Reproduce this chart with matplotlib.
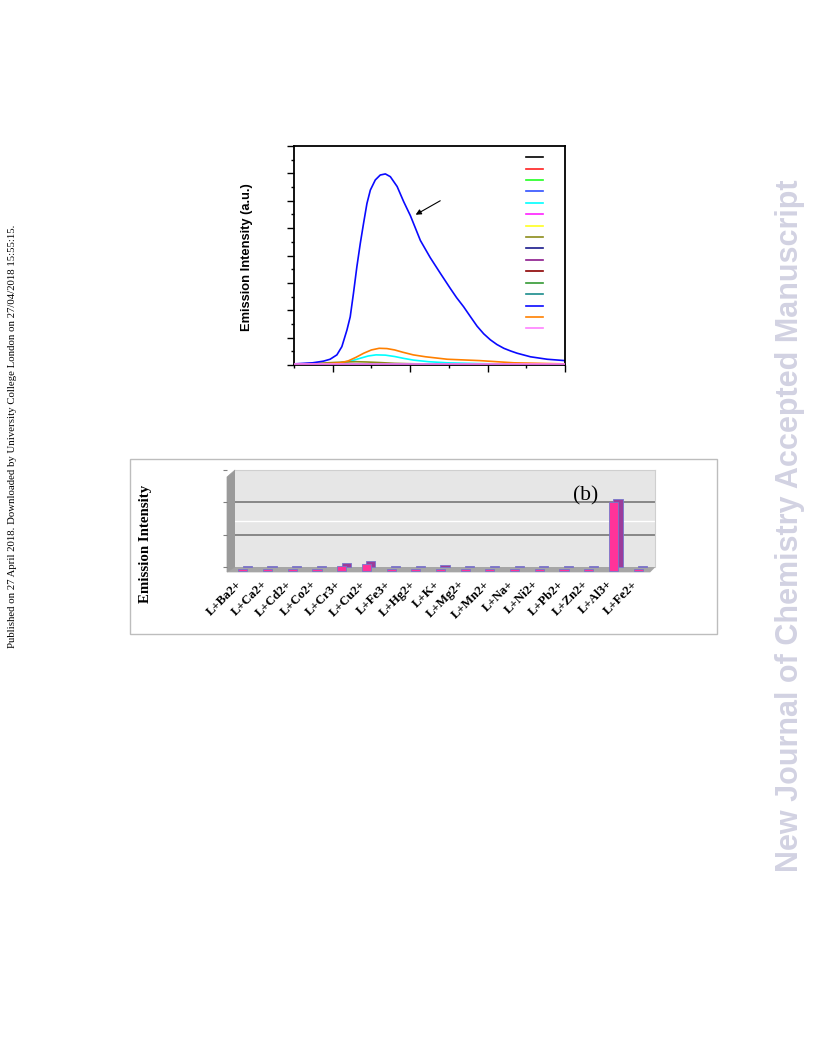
import matplotlib
matplotlib.use("Agg")
import matplotlib.pyplot as plt
from matplotlib.patches import Polygon, Rectangle
from matplotlib.ticker import MultipleLocator
from matplotlib.transforms import offset_copy, ScaledTranslation

# =========================
# Data
# =========================
W, H = 816, 1056

# (a) emission spectra, wavelength axis without labels
WL_BIG = [425, 437, 444, 448.3, 452.7, 455.9, 459.2, 461.3, 463.4, 465.6, 467.8, 469.9,
          472.1, 474.3, 477.5, 480.7, 484.0, 487.2, 491.6, 495.8, 500.2, 506.6, 513.0,
          519.5, 525.9, 530.0, 534.5, 539.0, 543.2, 547.5, 551.8, 556.0, 560.5, 565.0,
          569.1, 577.7, 588.5, 600]
I_BIG = [4, 8, 14, 21, 37, 67, 128, 176, 262, 359, 444, 517,
         590, 639, 676, 694, 698, 688, 652, 597, 545, 455, 392,
         335, 280, 246, 213, 176, 142, 114, 92, 75, 61, 51,
         43, 30, 21, 16]

WL_ORANGE = [425, 445, 455, 460, 465, 470, 475, 480, 485, 490, 495, 502, 510, 524, 545, 567, 600]
I_ORANGE = [2, 4, 8, 15, 28, 43, 55, 61, 60, 55, 47, 37, 30, 21, 16, 8, 4]

WL_CYAN = [425, 445, 455, 462, 468, 473, 478, 484, 490, 496, 502, 512, 524, 545, 570, 600]
I_CYAN = [2, 4, 8, 15, 25, 33, 37, 36, 31, 24, 18, 12, 8, 5, 3, 2]

WL_OLIVE = [425, 440, 450, 458, 465, 472, 480, 490, 505, 530, 600]
I_OLIVE = [3, 6, 9, 11, 12, 11, 9, 6, 4, 2, 1]

WL_FLAT = [425, 450, 475, 500, 525, 550, 575, 600]
I_BLACK = [1, 2, 3, 3, 2, 2, 1, 1]
I_RED = [1, 2, 3, 2, 2, 1, 1, 1]
I_LIME = [1, 2, 2, 2, 2, 1, 1, 1]
I_BLUE2 = [1, 2, 3, 3, 2, 1, 1, 1]
I_MAGENTA = [1, 1, 2, 2, 1, 1, 1, 1]
I_YELLOW = [1, 2, 2, 2, 1, 1, 1, 1]
I_NAVY = [1, 2, 3, 2, 2, 1, 1, 1]
I_PURPLE = [1, 1, 2, 2, 1, 1, 1, 1]
I_MAROON = [1, 2, 2, 2, 1, 1, 1, 1]
I_GREEN = [1, 2, 3, 3, 2, 1, 1, 1]
I_TEAL = [1, 2, 2, 2, 2, 1, 1, 1]
I_PINK = [2, 2, 2, 2, 2, 2, 2, 2]

LEGEND_COLORS = ["#000000", "#ff2020", "#20ff20", "#3050ff", "#00ffff", "#ff20ff",
                 "#ffff20", "#8c8c1a", "#1a1a8c", "#8c1a8c", "#8c0000", "#339933",
                 "#1a8c8c", "#0a0aff", "#ff8000", "#ff80ff"]

# (b) bar chart
IONS = ["L+Ba2+", "L+Ca2+", "L+Cd2+", "L+Co2+", "L+Cr3+", "L+Cu2+", "L+Fe3+", "L+Hg2+",
        "L+K+", "L+Mg2+", "L+Mn2+", "L+Na+", "L+Ni2+", "L+Pb2+", "L+Zn2+", "L+Al3+", "L+Fe2+"]
BAR_VALUES = [4, 4, 4, 4, 13, 20, 4, 4, 5, 4, 4, 4, 4, 4, 4, 211, 4]


def fig_rect(x0, y0, x1, y1):
    return [x0 / W, 1 - y1 / H, (x1 - x0) / W, (y1 - y0) / H]


def fig_pts(pts):
    return [(x / W, 1 - y / H) for x, y in pts]


fig = plt.figure(figsize=(W / 100, H / 100), dpi=100)

# =========================
# Panel (a): spectra
# =========================
ax = fig.add_axes(fig_rect(294, 146, 565, 365))

flat_sets = [I_BLACK, I_RED, I_LIME, I_BLUE2, None, I_MAGENTA, I_YELLOW, None,
             I_NAVY, I_PURPLE, I_MAROON, I_GREEN, I_TEAL, None, None, I_PINK]
handles = []
for i, col in enumerate(LEGEND_COLORS):
    if i == 4:
        xs, ys = WL_CYAN, I_CYAN
    elif i == 7:
        xs, ys = WL_OLIVE, I_OLIVE
    elif i == 13:
        xs, ys = WL_BIG, I_BIG
    elif i == 14:
        xs, ys = WL_ORANGE, I_ORANGE
    else:
        xs, ys = WL_FLAT, flat_sets[i]
    (ln,) = ax.plot(xs, ys, color=col, lw=1.2, zorder=2 + (i == 15),
                    solid_joinstyle="round")
    handles.append(ln)

ax.set_xlim(425, 600)
ax.set_ylim(0, 800)
ax.xaxis.set_major_locator(MultipleLocator(50))
ax.xaxis.set_major_formatter(plt.NullFormatter())
ax.xaxis.set_minor_locator(MultipleLocator(25))
ax.yaxis.set_major_locator(MultipleLocator(100))
ax.yaxis.set_minor_locator(MultipleLocator(50))
ax.tick_params(which="both", direction="out", top=False, right=False,
               labelleft=False, labelbottom=False, width=1)
ax.tick_params(which="major", length=5)
ax.tick_params(which="minor", length=2.5)
for sp in ax.spines.values():
    sp.set_linewidth(1.3)

ax.annotate("", xy=(502, 544), xytext=(521, 605),
            arrowprops=dict(arrowstyle="-|>", color="black", lw=0.8, mutation_scale=8))

leg = ax.legend(handles, [""] * len(handles), loc="upper left",
                bbox_to_anchor=(0.856, 0.968), frameon=False, fontsize=6,
                handlelength=2.1, handletextpad=0, labelspacing=0.29,
                borderpad=0, borderaxespad=0)

fig.text(247 / W, 1 - 257 / H, "Emission Intensity (a.u.)", rotation=90,
         ha="center", va="center", fontsize=9.3, fontweight="bold",
         family="Liberation Sans")

# =========================
# Panel (b): bar chart
# =========================
fig.patches.append(Rectangle((130 / W, 1 - 634 / H), 587 / W, 175 / H,
                             transform=fig.transFigure, facecolor="none",
                             edgecolor="#bdbdbd", lw=1))

bx = fig.add_axes(fig_rect(235, 470, 655, 567))
bx.set_facecolor("#e6e6e6")
xpos = list(range(len(IONS)))

back = bx.bar(xpos, BAR_VALUES, width=0.37, color="#9b3c9b", edgecolor="#7777cc",
              lw=0.6, zorder=3)
front_tr = offset_copy(bx.transData, fig=fig, x=-4.5, y=-3.5, units="dots")
front = bx.bar(xpos, BAR_VALUES, width=0.37, color="#ff3399", edgecolor="#7777cc",
               lw=0.6, zorder=4)
for r in back.patches:
    r.set_clip_on(False)
for r in front.patches:
    r.set_transform(front_tr)
    r.set_clip_on(False)

for lvl in (100, 200):
    bx.axhline(lvl, color="#808080", lw=1.3, zorder=1)
bx.axhline(143, color="white", lw=1, zorder=1)

bx.set_xlim(-0.5, len(IONS) - 0.5)
bx.set_ylim(0, 300)
bx.set_yticks([0, 100, 200, 300])
bx.set_yticklabels([])
bx.tick_params(axis="y", length=3, color="#808080", direction="out")
bx.spines["left"].set_position(("outward", 6))
bx.spines["left"].set_color("none")
bx.spines["bottom"].set_color("none")
bx.spines["top"].set_color("#cfcfcf")
bx.spines["right"].set_color("#cfcfcf")

bx.set_xticks(xpos)
bx.set_xticklabels(IONS, rotation=45, ha="right", va="center", rotation_mode="anchor",
                   fontsize=9.2, fontweight="bold", family="Liberation Serif")
bx.tick_params(axis="x", length=0, pad=11)
shift = ScaledTranslation(-7 / 100, 0, fig.dpi_scale_trans)
for lab in bx.get_xticklabels():
    lab.set_transform(lab.get_transform() + shift)

# floor and left wall of the 3-D frame
fig.patches.append(Polygon(fig_pts([(235, 567), (655, 567), (650, 572), (227, 572)]),
                           closed=True, transform=fig.transFigure,
                           facecolor="#a6a6a6", edgecolor="#a6a6a6", lw=0.5, zorder=-1))
fig.patches.append(Polygon(fig_pts([(227, 477), (235, 470), (235, 567), (227, 572)]),
                           closed=True, transform=fig.transFigure,
                           facecolor="#9a9a9a", edgecolor="#9a9a9a", lw=0.5, zorder=-1))

fig.text(586 / W, 1 - 496 / H, "(b)", ha="center", va="center", fontsize=15.5,
         family="Liberation Serif")

fig.text(146 / W, 1 - 544 / H, "Emission Intensity", rotation=90, ha="center",
         va="center", fontsize=10.7, fontweight="bold", family="Liberation Serif")

# =========================
# Page furniture
# =========================
fig.text(13 / W, 1 - 436 / H,
         "Published on 27 April 2018. Downloaded by University College London on 27/04/2018 15:55:15.",
         rotation=90, ha="center", va="center", fontsize=7.75, family="Liberation Serif")
fig.text(790 / W, 1 - 526 / H, "New Journal of Chemistry Accepted Manuscript",
         rotation=90, ha="center", va="center", fontsize=22, fontweight="bold",
         family="Liberation Sans", color="#d2d2e2")

fig.savefig("out.png", dpi=100)
